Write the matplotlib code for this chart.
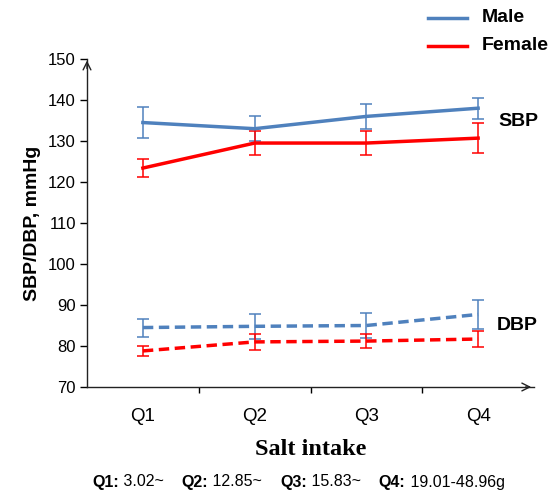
import matplotlib
matplotlib.use("Agg")
import matplotlib.pyplot as plt
from matplotlib.lines import Line2D
import numpy as np

plt.rcParams['font.family'] = ['Liberation Sans', 'DejaVu Sans']

categories = ["Q1", "Q2", "Q3", "Q4"]
male_sbp = [134.5, 133.0, 136.0, 138.0]
male_sbp_err = [3.8, 3.0, 3.0, 2.6]
female_sbp = [123.4, 129.5, 129.5, 130.7]
female_sbp_err = [2.1, 3.0, 3.0, 3.6]
male_dbp = [84.5, 84.8, 85.0, 87.7]
male_dbp_err = [2.2, 3.1, 3.1, 3.5]
female_dbp = [78.8, 81.0, 81.2, 81.7]
female_dbp_err = [1.3, 1.9, 1.7, 1.9]
yticks = [70, 80, 90, 100, 110, 120, 130, 140, 150]
footnote_keys = ["Q1:", "Q2:", "Q3:", "Q4:"]
footnote_vals = ["3.02~", "12.85~", "15.83~", "19.01-48.96g"]

blue = "#4F81BD"
red = "#FF0000"

fig = plt.figure(figsize=(5.51, 4.92), dpi=100)
W, H = 551, 492
ax = fig.add_axes([87 / W, 1 - 387 / H, (534 - 87) / W, (387 - 59) / H])

x = np.arange(len(categories)) + 0.5
ekw = dict(lw=2.5, elinewidth=1.1, capsize=4, capthick=1.1)

ax.errorbar(x, male_sbp, yerr=male_sbp_err, color=blue, **ekw)
ax.errorbar(x, female_sbp, yerr=female_sbp_err, color=red, **ekw)
l1 = ax.errorbar(x, male_dbp, yerr=male_dbp_err, color=blue, **ekw)
l1.lines[0].set_dashes((3, 1.6))
l2 = ax.errorbar(x, female_dbp, yerr=female_dbp_err, color=red, **ekw)
l2.lines[0].set_dashes((3, 1.6))

ax.set_xlim(0, 4)
ax.set_ylim(70, 150)
ax.set_yticks(yticks)
ax.set_yticklabels([str(v) for v in yticks], fontsize=12)
ax.set_xticks([1, 2, 3])
ax.set_xticklabels([])
ax.set_xticks(x, minor=True)
ax.set_xticklabels(categories, minor=True, fontsize=13.5)
ax.tick_params(axis='x', which='minor', length=0, pad=15)
ax.tick_params(axis='x', which='major', length=4, width=1, direction='out')
ax.tick_params(axis='y', length=5, width=1, direction='out', pad=3)

for s in ['top', 'right']:
    ax.spines[s].set_visible(False)
for s in ['left', 'bottom']:
    ax.spines[s].set_linewidth(1.0)
    ax.spines[s].set_color('#222222')

# arrow heads
ax.annotate('', xy=(4.0, 70), xytext=(3.9, 70), xycoords='data',
            arrowprops=dict(arrowstyle='->', color='#222222', lw=1.0,
                            mutation_scale=14), annotation_clip=False)
ax.annotate('', xy=(0, 150.3), xytext=(0, 147), xycoords='data',
            arrowprops=dict(arrowstyle='->', color='#222222', lw=1.0,
                            mutation_scale=14), annotation_clip=False)

ax.set_ylabel("SBP/DBP, mmHg", fontsize=14, fontweight='bold', labelpad=5)
ax.set_xlabel("Salt intake", fontsize=17.5, fontweight='bold',
              family=['Liberation Serif', 'DejaVu Serif'], labelpad=10)

fig.text(498 / W, 1 - 122 / H, "SBP", fontsize=14, fontweight='bold',
         va='center', ha='left')
fig.text(497 / W, 1 - 325 / H, "DBP", fontsize=14, fontweight='bold',
         va='center', ha='left')

# legend (manual)
for yy, c, lab in [(18, blue, "Male"), (46, red, "Female")]:
    fig.add_artist(Line2D([428 / W, 467 / W], [1 - yy / H, 1 - yy / H],
                          color=c, lw=2.5))
    fig.text(482 / W, 1 - yy / H, lab, fontsize=14, fontweight='bold',
             va='center', ha='left')

# footnote
fy = 1 - 482 / H
parts = []
for i, (k, v) in enumerate(zip(footnote_keys, footnote_vals)):
    parts.append((k, 'bold'))
    parts.append((" " + v + ("    " if i < 3 else ""), 'normal'))
renderer = fig.canvas.get_renderer()
cur = 92 / W
for txt, w in parts:
    t = fig.text(cur, fy, txt, fontsize=11.5, fontweight=w, va='center', ha='left')
    bb = t.get_window_extent(renderer=renderer)
    cur += bb.width / W

fig.savefig("out.png", dpi=100)
